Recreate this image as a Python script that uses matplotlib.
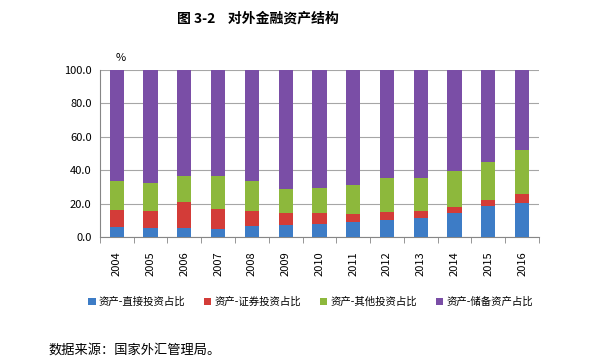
import matplotlib.pyplot as plt
import numpy as np

plt.rcParams['font.family'] = ['Noto Sans CJK SC', 'DejaVu Sans']

years = ["2004", "2005", "2006", "2007", "2008", "2009", "2010",
         "2011", "2012", "2013", "2014", "2015", "2016"]
# shares (%)
direct = [6.0, 5.6, 5.6, 5.0, 6.6, 7.4, 8.0, 9.0, 10.4, 11.4, 14.4, 18.4, 20.4]
portfolio = [10.0, 9.8, 15.4, 12.0, 8.8, 7.0, 6.4, 4.8, 4.8, 4.0, 3.8, 3.8, 5.6]
other = [17.4, 17.0, 15.6, 19.6, 18.0, 14.6, 15.2, 17.4, 20.2, 20.0, 21.6, 22.6, 26.2]
reserve = [66.6, 67.6, 63.4, 63.4, 66.6, 71.0, 70.4, 68.8, 64.6, 64.6, 60.2, 55.2, 47.8]

labels = ["资产-直接投资占比", "资产-证券投资占比", "资产-其他投资占比", "资产-储备资产占比"]
colors = ["#3D7CC6", "#D33C38", "#8DB83C", "#7A4EA6"]
series = [direct, portfolio, other, reserve]

fig = plt.figure(figsize=(6.09, 3.62), dpi=100)
ax = fig.add_axes([0.164, 0.345, 0.721, 0.462])

x = np.arange(len(years))
bottom = np.zeros(len(years))
for vals, col, lab in zip(series, colors, labels):
    ax.bar(x, vals, width=0.42, bottom=bottom, color=col, label=lab, zorder=3)
    bottom += np.array(vals)

ax.set_xlim(-0.5, len(years) - 0.5)
ax.set_ylim(0, 100)
yt = np.arange(0, 101, 20)
ax.set_yticks(yt)
ax.set_yticklabels([f"{v:.1f}" for v in yt], fontsize=8)
ax.yaxis.grid(True, color="#A6A6A6", linewidth=0.8, zorder=0)
ax.tick_params(axis="y", length=0, pad=6)

ax.set_xticks(x)
ax.set_xticklabels(years, rotation=90, fontsize=8)
ax.tick_params(axis="x", length=0, pad=10)
ax.set_xticks(np.arange(-0.5, len(years)), minor=True)
ax.tick_params(axis="x", which="minor", length=4, color="#868686", direction="out")

for s in ["top", "right"]:
    ax.spines[s].set_visible(False)
ax.spines["left"].set_color("#868686")
ax.spines["bottom"].set_color("#868686")

ax.text(0.12, 104, "%", fontsize=8, ha="center", va="bottom")

fig.text(0.424, 0.948, "图 3-2    对外金融资产结构", fontsize=10, fontweight="bold",
         ha="center", va="center")

fig.legend(loc="center", bbox_to_anchor=(0.51, 0.166), ncol=4, frameon=False,
           fontsize=7.5, handlelength=0.7, handleheight=0.7, handletextpad=0.3,
           columnspacing=1.8)

fig.text(0.079, 0.033, "数据来源：国家外汇管理局。", fontsize=9.5, ha="left", va="center")

fig.savefig("out.png", dpi=100)
